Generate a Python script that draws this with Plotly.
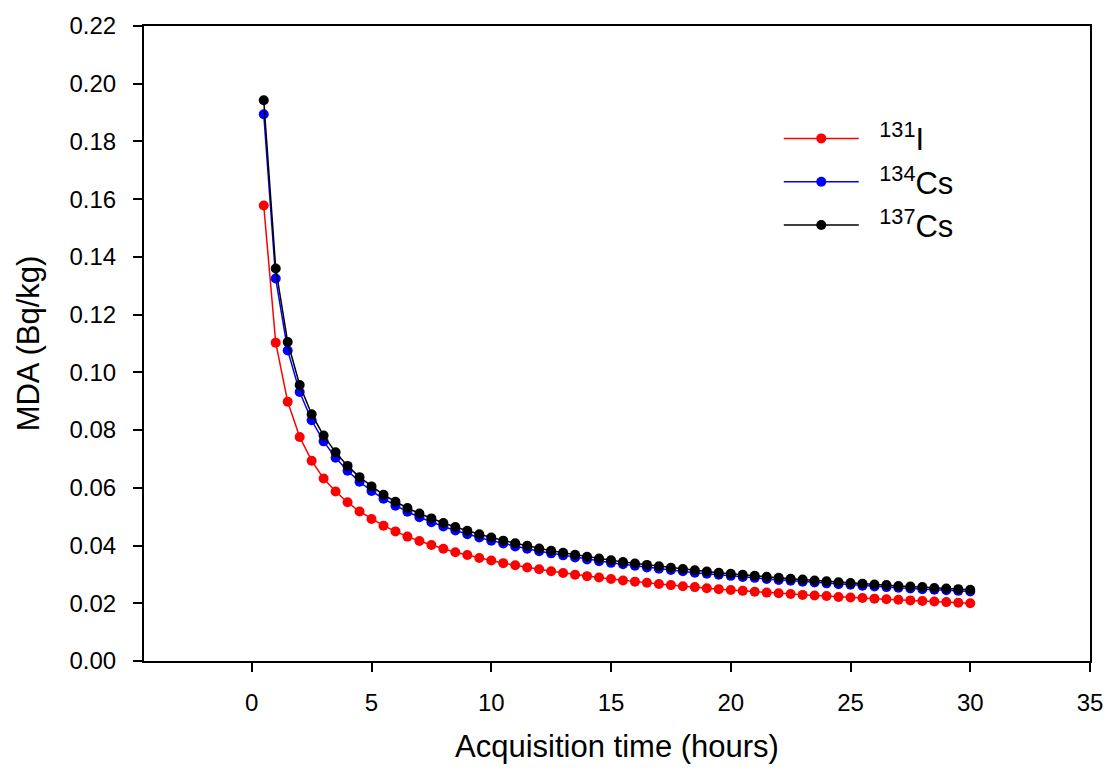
import plotly.graph_objects as go

hours = [0.5, 1.0, 1.5, 2.0, 2.5, 3.0, 3.5, 4.0, 4.5, 5.0,
         5.5, 6.0, 6.5, 7.0, 7.5, 8.0, 8.5, 9.0, 9.5, 10.0,
         10.5, 11.0, 11.5, 12.0, 12.5, 13.0, 13.5, 14.0, 14.5, 15.0,
         15.5, 16.0, 16.5, 17.0, 17.5, 18.0, 18.5, 19.0, 19.5, 20.0,
         20.5, 21.0, 21.5, 22.0, 22.5, 23.0, 23.5, 24.0, 24.5, 25.0,
         25.5, 26.0, 26.5, 27.0, 27.5, 28.0, 28.5, 29.0, 29.5, 30.0]

mda_i131 = [0.1578, 0.1103, 0.0898, 0.0776, 0.0694, 0.0632, 0.0587, 0.0550, 0.0518, 0.0492,
            0.0469, 0.0449, 0.0431, 0.0416, 0.0402, 0.0389, 0.0377, 0.0367, 0.0357, 0.0348,
            0.0339, 0.0332, 0.0324, 0.0318, 0.0311, 0.0305, 0.0299, 0.0294, 0.0289, 0.0284,
            0.0279, 0.0275, 0.0271, 0.0267, 0.0263, 0.0259, 0.0256, 0.0252, 0.0249, 0.0246,
            0.0243, 0.0240, 0.0237, 0.0235, 0.0232, 0.0229, 0.0227, 0.0225, 0.0222, 0.0220,
            0.0218, 0.0216, 0.0214, 0.0212, 0.0210, 0.0208, 0.0206, 0.0204, 0.0202, 0.0200]

mda_cs134 = [0.1894, 0.1325, 0.1076, 0.0932, 0.0834, 0.0761, 0.0704, 0.0659, 0.0621, 0.0589,
             0.0562, 0.0538, 0.0517, 0.0498, 0.0481, 0.0466, 0.0452, 0.0439, 0.0428, 0.0417,
             0.0407, 0.0397, 0.0389, 0.0380, 0.0373, 0.0366, 0.0359, 0.0352, 0.0346, 0.0340,
             0.0335, 0.0330, 0.0324, 0.0320, 0.0315, 0.0311, 0.0306, 0.0302, 0.0299, 0.0295,
             0.0291, 0.0288, 0.0284, 0.0281, 0.0278, 0.0275, 0.0272, 0.0269, 0.0266, 0.0264,
             0.0261, 0.0258, 0.0256, 0.0254, 0.0251, 0.0249, 0.0247, 0.0245, 0.0243, 0.0241]

mda_cs137 = [0.1943, 0.1360, 0.1105, 0.0956, 0.0855, 0.0781, 0.0723, 0.0676, 0.0637, 0.0605,
             0.0576, 0.0552, 0.0530, 0.0511, 0.0494, 0.0478, 0.0464, 0.0451, 0.0439, 0.0428,
             0.0417, 0.0408, 0.0399, 0.0390, 0.0382, 0.0375, 0.0368, 0.0361, 0.0355, 0.0349,
             0.0343, 0.0338, 0.0333, 0.0328, 0.0323, 0.0319, 0.0314, 0.0310, 0.0306, 0.0302,
             0.0299, 0.0295, 0.0292, 0.0288, 0.0285, 0.0282, 0.0279, 0.0276, 0.0273, 0.0270,
             0.0268, 0.0265, 0.0263, 0.0260, 0.0258, 0.0256, 0.0253, 0.0251, 0.0249, 0.0247]

series_names = ["\u2002<sup>131</sup>I", "\u2002<sup>134</sup>Cs", "\u2002<sup>137</sup>Cs"]
series_colors = ["#ff0000", "#0000ff", "#000000"]
x_ticks = [0, 5, 10, 15, 20, 25, 30, 35]
y_ticks = [0.00, 0.02, 0.04, 0.06, 0.08, 0.10, 0.12, 0.14, 0.16, 0.18, 0.20, 0.22]

FONT = "Liberation Sans, Arial, sans-serif"

fig = go.Figure()
for name, vals, col in zip(series_names, [mda_i131, mda_cs134, mda_cs137], series_colors):
    fig.add_trace(go.Scatter(
        x=hours, y=vals, name=name, mode="lines+markers",
        line=dict(color=col, width=1.5),
        marker=dict(color=col, size=10),
    ))

axis_common = dict(
    showline=True, linecolor="black", linewidth=2, mirror=True,
    ticks="outside", ticklen=9, tickwidth=2, tickcolor="black",
    showgrid=False, zeroline=False,
    tickfont=dict(family=FONT, size=24, color="black"),
)

fig.update_layout(
    width=1115, height=771,
    margin=dict(l=144, r=17, t=16, b=110),
    paper_bgcolor="white", plot_bgcolor="white",
    font=dict(family=FONT, color="black"),
    xaxis=dict(range=[-4.5, 35], tickvals=x_ticks, ticktext=[str(v) for v in x_ticks],
               ticklabelstandoff=10,
               title=dict(text="Acquisition time (hours)", font=dict(family=FONT, size=31), standoff=21),
               **axis_common),
    yaxis=dict(range=[0, 0.22], tickvals=y_ticks, ticktext=[f"{v:.2f}" for v in y_ticks],
               ticklabelstandoff=12,
               title=dict(text="MDA (Bq/kg)", font=dict(family=FONT, size=31), standoff=21),
               **axis_common),
    legend=dict(x=0.671, y=0.865, xanchor="left", yanchor="top",
                bgcolor="rgba(0,0,0,0)", font=dict(family=FONT, size=31),
                itemwidth=75, tracegroupgap=0),
    showlegend=True,
)

fig.write_html("out.html")
